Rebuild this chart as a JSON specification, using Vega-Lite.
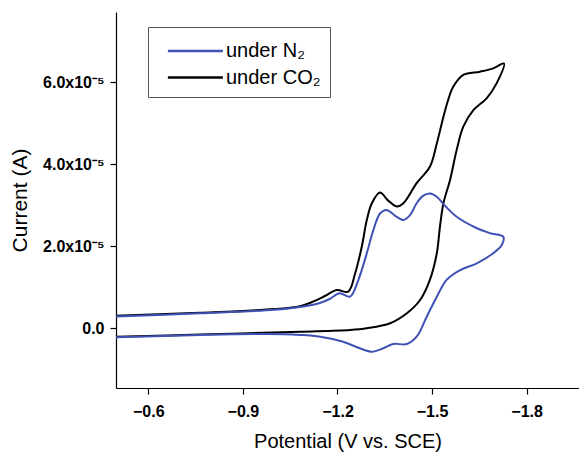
{
  "$schema": "https://vega.github.io/schema/vega-lite/v6.json",
  "width": 463,
  "height": 376,
  "autosize": {"type": "none"},
  "padding": {"left": 116, "top": 12, "right": 0, "bottom": 64},
  "background": "white",
  "config": {
    "view": {"stroke": null},
    "font": "Liberation Sans"
  },
  "data": {
    "values": [
      {"series": "under CO₂", "i": 1, "potential": -0.498, "current": 0.307e-5},
      {"series": "under CO₂", "i": 2, "potential": -0.764, "current": 0.38e-5},
      {"series": "under CO₂", "i": 3, "potential": -1.000, "current": 0.47e-5},
      {"series": "under CO₂", "i": 4, "potential": -1.081, "current": 0.54e-5},
      {"series": "under CO₂", "i": 5, "potential": -1.122, "current": 0.649e-5},
      {"series": "under CO₂", "i": 6, "potential": -1.160, "current": 0.788e-5},
      {"series": "under CO₂", "i": 7, "potential": -1.198, "current": 0.934e-5},
      {"series": "under CO₂", "i": 8, "potential": -1.234, "current": 0.893e-5},
      {"series": "under CO₂", "i": 9, "potential": -1.256, "current": 1.341e-5},
      {"series": "under CO₂", "i": 10, "potential": -1.277, "current": 1.99e-5},
      {"series": "under CO₂", "i": 11, "potential": -1.293, "current": 2.64e-5},
      {"series": "under CO₂", "i": 12, "potential": -1.309, "current": 3.05e-5},
      {"series": "under CO₂", "i": 13, "potential": -1.335, "current": 3.31e-5},
      {"series": "under CO₂", "i": 14, "potential": -1.360, "current": 3.12e-5},
      {"series": "under CO₂", "i": 15, "potential": -1.388, "current": 2.97e-5},
      {"series": "under CO₂", "i": 16, "potential": -1.409, "current": 3.05e-5},
      {"series": "under CO₂", "i": 17, "potential": -1.451, "current": 3.54e-5},
      {"series": "under CO₂", "i": 18, "potential": -1.493, "current": 3.94e-5},
      {"series": "under CO₂", "i": 19, "potential": -1.515, "current": 4.51e-5},
      {"series": "under CO₂", "i": 20, "potential": -1.536, "current": 5.16e-5},
      {"series": "under CO₂", "i": 21, "potential": -1.551, "current": 5.57e-5},
      {"series": "under CO₂", "i": 22, "potential": -1.567, "current": 5.89e-5},
      {"series": "under CO₂", "i": 23, "potential": -1.599, "current": 6.18e-5},
      {"series": "under CO₂", "i": 24, "potential": -1.652, "current": 6.26e-5},
      {"series": "under CO₂", "i": 25, "potential": -1.694, "current": 6.34e-5},
      {"series": "under CO₂", "i": 26, "potential": -1.728, "current": 6.46e-5},
      {"series": "under CO₂", "i": 27, "potential": -1.705, "current": 5.98e-5},
      {"series": "under CO₂", "i": 28, "potential": -1.673, "current": 5.61e-5},
      {"series": "under CO₂", "i": 29, "potential": -1.631, "current": 5.32e-5},
      {"series": "under CO₂", "i": 30, "potential": -1.599, "current": 4.92e-5},
      {"series": "under CO₂", "i": 31, "potential": -1.578, "current": 4.35e-5},
      {"series": "under CO₂", "i": 32, "potential": -1.557, "current": 3.62e-5},
      {"series": "under CO₂", "i": 33, "potential": -1.536, "current": 3.05e-5},
      {"series": "under CO₂", "i": 34, "potential": -1.525, "current": 2.48e-5},
      {"series": "under CO₂", "i": 35, "potential": -1.515, "current": 1.83e-5},
      {"series": "under CO₂", "i": 36, "potential": -1.493, "current": 1.18e-5},
      {"series": "under CO₂", "i": 37, "potential": -1.462, "current": 0.69e-5},
      {"series": "under CO₂", "i": 38, "potential": -1.420, "current": 0.366e-5},
      {"series": "under CO₂", "i": 39, "potential": -1.367, "current": 0.122e-5},
      {"series": "under CO₂", "i": 40, "potential": -1.293, "current": 0.0},
      {"series": "under CO₂", "i": 41, "potential": -1.240, "current": -0.041e-5},
      {"series": "under CO₂", "i": 42, "potential": -1.081, "current": -0.083e-5},
      {"series": "under CO₂", "i": 43, "potential": -0.764, "current": -0.151e-5},
      {"series": "under CO₂", "i": 44, "potential": -0.498, "current": -0.205e-5},
      {"series": "under N₂", "i": 1, "potential": -0.498, "current": 0.288e-5},
      {"series": "under N₂", "i": 2, "potential": -0.764, "current": 0.366e-5},
      {"series": "under N₂", "i": 3, "potential": -1.000, "current": 0.45e-5},
      {"series": "under N₂", "i": 4, "potential": -1.081, "current": 0.52e-5},
      {"series": "under N₂", "i": 5, "potential": -1.144, "current": 0.617e-5},
      {"series": "under N₂", "i": 6, "potential": -1.175, "current": 0.715e-5},
      {"series": "under N₂", "i": 7, "potential": -1.207, "current": 0.854e-5},
      {"series": "under N₂", "i": 8, "potential": -1.240, "current": 0.771e-5},
      {"series": "under N₂", "i": 9, "potential": -1.266, "current": 1.178e-5},
      {"series": "under N₂", "i": 10, "potential": -1.293, "current": 1.83e-5},
      {"series": "under N₂", "i": 11, "potential": -1.314, "current": 2.40e-5},
      {"series": "under N₂", "i": 12, "potential": -1.335, "current": 2.80e-5},
      {"series": "under N₂", "i": 13, "potential": -1.356, "current": 2.885e-5},
      {"series": "under N₂", "i": 14, "potential": -1.382, "current": 2.75e-5},
      {"series": "under N₂", "i": 15, "potential": -1.409, "current": 2.64e-5},
      {"series": "under N₂", "i": 16, "potential": -1.430, "current": 2.76e-5},
      {"series": "under N₂", "i": 17, "potential": -1.451, "current": 3.05e-5},
      {"series": "under N₂", "i": 18, "potential": -1.471, "current": 3.23e-5},
      {"series": "under N₂", "i": 19, "potential": -1.493, "current": 3.29e-5},
      {"series": "under N₂", "i": 20, "potential": -1.515, "current": 3.21e-5},
      {"series": "under N₂", "i": 21, "potential": -1.536, "current": 3.03e-5},
      {"series": "under N₂", "i": 22, "potential": -1.578, "current": 2.72e-5},
      {"series": "under N₂", "i": 23, "potential": -1.642, "current": 2.44e-5},
      {"series": "under N₂", "i": 24, "potential": -1.684, "current": 2.32e-5},
      {"series": "under N₂", "i": 25, "potential": -1.726, "current": 2.23e-5},
      {"series": "under N₂", "i": 26, "potential": -1.721, "current": 2.03e-5},
      {"series": "under N₂", "i": 27, "potential": -1.694, "current": 1.83e-5},
      {"series": "under N₂", "i": 28, "potential": -1.642, "current": 1.585e-5},
      {"series": "under N₂", "i": 29, "potential": -1.589, "current": 1.42e-5},
      {"series": "under N₂", "i": 30, "potential": -1.546, "current": 1.18e-5},
      {"series": "under N₂", "i": 31, "potential": -1.515, "current": 0.77e-5},
      {"series": "under N₂", "i": 32, "potential": -1.483, "current": 0.283e-5},
      {"series": "under N₂", "i": 33, "potential": -1.451, "current": -0.205e-5},
      {"series": "under N₂", "i": 34, "potential": -1.420, "current": -0.383e-5},
      {"series": "under N₂", "i": 35, "potential": -1.377, "current": -0.383e-5},
      {"series": "under N₂", "i": 36, "potential": -1.345, "current": -0.488e-5},
      {"series": "under N₂", "i": 37, "potential": -1.309, "current": -0.571e-5},
      {"series": "under N₂", "i": 38, "potential": -1.271, "current": -0.488e-5},
      {"series": "under N₂", "i": 39, "potential": -1.218, "current": -0.327e-5},
      {"series": "under N₂", "i": 40, "potential": -1.145, "current": -0.205e-5},
      {"series": "under N₂", "i": 41, "potential": -1.081, "current": -0.163e-5},
      {"series": "under N₂", "i": 42, "potential": -0.976, "current": -0.14e-5},
      {"series": "under N₂", "i": 43, "potential": -0.764, "current": -0.163e-5},
      {"series": "under N₂", "i": 44, "potential": -0.498, "current": -0.22e-5}
    ]
  },
  "mark": {"type": "line", "strokeWidth": 2, "clip": true, "interpolate": "catmull-rom"},
  "encoding": {
    "x": {
      "field": "potential",
      "type": "quantitative",
      "scale": {"domain": [-1.966, -0.4975], "reverse": true, "nice": false, "zero": false},
      "axis": {
        "title": "Potential (V vs. SCE)",
        "values": [-0.6, -0.9, -1.2, -1.5, -1.8],
        "format": ".1f",
        "grid": false,
        "domainColor": "#000000",
        "domainWidth": 1.2,
        "tickColor": "#000000",
        "tickSize": 6,
        "tickWidth": 1.2,
        "labelFont": "Liberation Sans",
        "labelFontWeight": "bold",
        "labelFontSize": 16,
        "labelColor": "#000000",
        "labelPadding": 9,
        "titleFont": "Liberation Sans",
        "titleFontWeight": "normal",
        "titleFontSize": 20,
        "titleColor": "#000000",
        "titlePadding": 12
      }
    },
    "y": {
      "field": "current",
      "type": "quantitative",
      "scale": {"domain": [-1.456e-5, 7.715e-5], "nice": false, "zero": false},
      "axis": {
        "title": "Current (A)",
        "values": [0, 2e-5, 4e-5, 6e-5],
        "labelExpr": "datum.value == 0 ? '0.0' : format(datum.value / 1e-5, '.1f') + 'x10⁻⁵'",
        "grid": false,
        "domainColor": "#000000",
        "domainWidth": 1.2,
        "tickColor": "#000000",
        "tickSize": 6,
        "tickWidth": 1.2,
        "labelFont": "Liberation Sans",
        "labelFontWeight": "bold",
        "labelFontSize": 16,
        "labelColor": "#000000",
        "labelPadding": 6,
        "titleFont": "Liberation Sans",
        "titleFontWeight": "normal",
        "titleFontSize": 21,
        "titleColor": "#000000",
        "titlePadding": 12
      }
    },
    "color": {
      "field": "series",
      "type": "nominal",
      "scale": {"domain": ["under N₂", "under CO₂"], "range": ["#3f51b5", "#000000"]},
      "legend": {
        "title": null,
        "orient": "none",
        "legendX": 32,
        "legendY": 15,
        "symbolType": "M-0.3,0L3.7,0",
        "symbolSize": 756,
        "symbolStrokeWidth": 2.5,
        "labelFont": "Liberation Sans",
        "labelFontSize": 20,
        "labelColor": "#000000",
        "labelOffset": 39,
        "labelExpr": "datum.label + '\u00a0\u00a0\u00a0\u00a0\u00a0'",
        "strokeColor": "#555555",
        "padding": 9,
        "rowPadding": 1.5
      }
    },
    "order": {"field": "i", "type": "quantitative"}
  }
}
